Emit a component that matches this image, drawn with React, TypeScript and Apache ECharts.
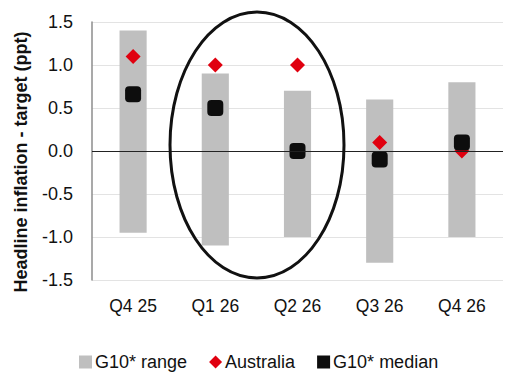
import React, { useEffect, useRef } from "react";
import * as echarts from "echarts";

const categories = ["Q4 25", "Q1 26", "Q2 26", "Q3 26", "Q4 26"];
const rangeLow = [-0.95, -1.1, -1.0, -1.3, -1.0];
const rangeHigh = [1.4, 0.9, 0.7, 0.6, 0.8];
const australia = [1.1, 1.0, 1.0, 0.1, 0.0];
const median = [0.66, 0.5, 0.0, -0.1, 0.1];
const yTicks = { min: -1.5, max: 1.5, interval: 0.5 };

const FONT = "'Liberation Sans', Arial, sans-serif";

export default function App() {
  const ref = useRef<HTMLDivElement>(null);
  useEffect(() => {
    if (!ref.current) return;
    const chart = echarts.init(ref.current, null, { renderer: "svg" });
    chart.setOption({
      animation: false,
      backgroundColor: "#ffffff",
      textStyle: { fontFamily: FONT },
      grid: { left: 92, right: 2, top: 22, bottom: 95 },
      legend: {
        left: 74,
        top: 348,
        itemWidth: 13,
        itemHeight: 13,
        itemGap: 22,
        textStyle: { fontSize: 18, color: "#111", fontFamily: FONT, padding: [0, 0, 0, -2] },
        data: [
          { name: "G10* range", icon: "rect" },
          { name: "Australia", icon: "diamond" },
          { name: "G10* median", icon: "rect" },
        ],
      },
      xAxis: {
        type: "category",
        data: categories,
        axisLine: { show: false },
        axisTick: { show: false },
        axisLabel: { fontSize: 17.5, color: "#111", margin: 17, fontFamily: FONT },
        splitLine: { show: false },
      },
      yAxis: {
        type: "value",
        min: yTicks.min,
        max: yTicks.max,
        interval: yTicks.interval,
        axisLine: { show: true, lineStyle: { color: "#8c8c8c", width: 1.5 } },
        axisTick: { show: false },
        axisLabel: {
          fontSize: 18,
          color: "#111",
          margin: 19,
          fontFamily: FONT,
          formatter: (v: number) => v.toFixed(1),
        },
        splitLine: { show: true, lineStyle: { color: "#e3e3e3", width: 1 } },
      },
      series: [
        {
          name: "G10* range",
          type: "custom",
          itemStyle: { color: "#bfbfbf" },
          encode: { x: 0, y: [1, 2] },
          data: categories.map((_, i) => [i, rangeLow[i], rangeHigh[i]]),
          renderItem: (params: any, api: any) => {
            const lo = api.coord([api.value(0), api.value(1)]);
            const hi = api.coord([api.value(0), api.value(2)]);
            const w = api.size([1, 0])[0] * 0.33;
            return {
              type: "rect",
              shape: { x: lo[0] - w / 2, y: hi[1], width: w, height: lo[1] - hi[1] },
              style: { fill: "#bfbfbf" },
            };
          },
          markLine: {
            silent: true,
            symbol: "none",
            label: { show: false },
            lineStyle: { color: "#222", width: 1, type: "solid" },
            data: [{ yAxis: 0 }],
          },
          z: 2,
        },
        {
          name: "Australia",
          type: "scatter",
          symbol: "diamond",
          symbolSize: [15, 15],
          itemStyle: { color: "#e0000f", opacity: 1 },
          data: australia,
          z: 3,
        },
        {
          name: "G10* median",
          type: "scatter",
          symbol: "roundRect",
          symbolSize: 16,
          itemStyle: { color: "#0d0d0d", opacity: 1 },
          data: median,
          z: 4,
        },
      ],
      graphic: [
        {
          type: "text",
          x: 21,
          y: 162,
          rotation: Math.PI / 2,
          style: {
            text: "Headline inflation - target (ppt)",
            font: `bold 18px ${FONT}`,
            fill: "#111",
            align: "center",
            verticalAlign: "middle",
          },
        },
        {
          type: "ellipse",
          shape: { cx: 257, cy: 145, rx: 87, ry: 133 },
          style: { fill: "none", stroke: "#111", lineWidth: 3 },
          z: 100,
        },
      ],
    });
    return () => chart.dispose();
  }, []);
  return (
    <div
      ref={ref}
      style={{ position: "fixed", left: 0, top: 0, width: 505, height: 375, background: "#fff" }}
    />
  );
}
